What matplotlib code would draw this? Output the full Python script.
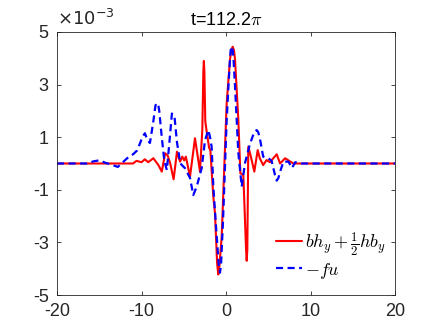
import matplotlib
matplotlib.use("Agg")
import matplotlib.pyplot as plt

plt.rcParams['font.family'] = ['Liberation Sans', 'DejaVu Sans']
plt.rcParams['mathtext.fontset'] = 'cm'
plt.rcParams['axes.unicode_minus'] = False

# values in units of 1e-3
red_x = [-20, -11, -10.6, -10.0, -9.6, -9.2, -8.6, -8.0, -7.6, -7.2, -6.9, -6.6, -6.2,
         -5.8, -5.44, -5.17, -4.95, -4.75, -4.26, -3.67, -3.08, -2.8, -2.68, -2.62, -2.56,
         -2.45, -2.28, -2.0, -1.85, -1.5, -1.3, -1.05, -0.91, -0.78, -0.51, 0.08, 0.47,
         0.62, 0.79, 0.95, 1.07, 1.46, 1.7, 2.05, 2.38, 2.45, 2.52, 2.64, 2.9, 3.35, 3.75,
         4.0, 4.4, 4.8, 5.2, 5.6, 6.0, 6.4, 7.0, 7.57, 8.0, 20]
red_y = [0, 0, 0.1, 0.05, 0.16, 0.05, 0.2, -0.06, -0.31, 0.39, 0.3, 0.0, -0.6,
         0.45, 0.07, 0.26, 0.12, 0.26, -0.5, 0.96, -0.3, 1.3, 3.5, 3.9, 3.5,
         1.6, 1.2, 0.6, 0.5, -1.26, -1.9, -3.8, -4.22, -3.9, -2.78, 2.3, 3.94,
         4.3, 4.44, 4.3, 3.94, 1.65, -0.37, -0.44, -3.3, -3.7, -3.3, 0.64, 0.32, -0.31, 0.51,
         0.2, -0.06, 0.13, 0.05, 0.2, 0.35, 0.0, 0.2, 0.08, 0.0, 0]

blue_x = [-20, -16.5, -15.7, -15.0, -14.3, -13.5, -12.8, -12.2, -11.7, -11.0, -10.5, -9.9,
          -9.6, -9.3, -9.0, -8.6, -8.35, -8.2, -8.0, -7.9, -7.6, -7.3, -7.0, -6.7, -6.4,
          -6.1, -5.8, -5.4, -4.85, -4.26, -3.87, -3.47, -2.88, -2.48, -2.09, -1.9, -1.7,
          -1.5, -1.1, -0.85, -0.71, -0.58, -0.35, 0.08, 0.3, 0.47, 0.55, 0.67, 0.8, 0.9,
          1.07, 1.46, 1.86, 2.25, 2.84, 3.35, 3.63, 3.8, 4.0, 4.4, 5.0, 5.4, 5.8, 6.0, 6.2,
          6.4, 6.8, 7.4, 7.8, 8.2, 8.8, 20]
blue_y = [0, 0, 0.08, 0.12, 0.03, -0.05, -0.13, 0.05, 0.2, 0.35, 0.5, 1.0,
          1.15, 0.9, 0.78, 1.6, 2.2, 2.3, 2.2, 2.0, 1.0, 0.1, -0.25, 0.8, 1.9,
          1.8, 0.8, 0.0, -0.18, -0.55, -1.2, -0.88, -0.18, 0.89, 1.27, 1.02, 0.64,
          -0.88, -2.78, -3.9, -4.15, -3.8, -2.15, 1.65, 3.0, 3.94, 4.3, 4.45, 4.3, 3.9,
          2.92, 0.4, -0.88, 0.02, 0.75, 1.2, 1.27, 1.2, 0.97, 0.26, 0.2, 0.1, -0.44, -0.65, -0.55,
          -0.31, 0.07, 0.07, -0.17, 0.05, 0, 0]

xticks = [-20, -10, 0, 10, 20]
yticks = [-5, -3, -1, 1, 3, 5]
title = 't=112.2$\\pi$'
labels = ['$bh_y+\\frac{1}{2}hb_y$', '$-fu$']

fig = plt.figure(figsize=(4.36, 3.27), dpi=100)
ax = fig.add_axes([57/436, 32/327, 338/436, 263/327])
ax.plot(red_x, red_y, color='#ff0000', lw=1.5, label=labels[0],
        solid_joinstyle='round', solid_capstyle='round')
ax.plot(blue_x, blue_y, color='#0000ff', lw=1.6, ls=(0, (3.2, 2.0)), label=labels[1],
        dash_joinstyle='round')
ax.set_xlim(-20, 20)
ax.set_ylim(-5, 5)
ax.set_xticks(xticks)
ax.set_yticks(yticks)
ax.set_xticklabels([str(t) for t in xticks])
ax.set_yticklabels([str(t) for t in yticks])
ax.tick_params(direction='in', length=3, width=0.6, top=True, right=True,
               labelsize=13, colors='#262626', pad=6)
for s in ax.spines.values():
    s.set_color('#262626')
    s.set_linewidth(0.6)
ax.set_title(title, fontsize=13, pad=5, color='#000000')
ax.text(0.0, 1.012, '$\\times10^{-3}$', transform=ax.transAxes, fontsize=13,
        ha='left', va='bottom', color='#262626', math_fontfamily='dejavusans')
ax.legend(loc='lower right', bbox_to_anchor=(1.0, 0.02), frameon=False, fontsize=13,
          handlelength=1.4, handletextpad=0.2, labelspacing=0.15, borderaxespad=0.1)
fig.savefig('out.png', dpi=100)
